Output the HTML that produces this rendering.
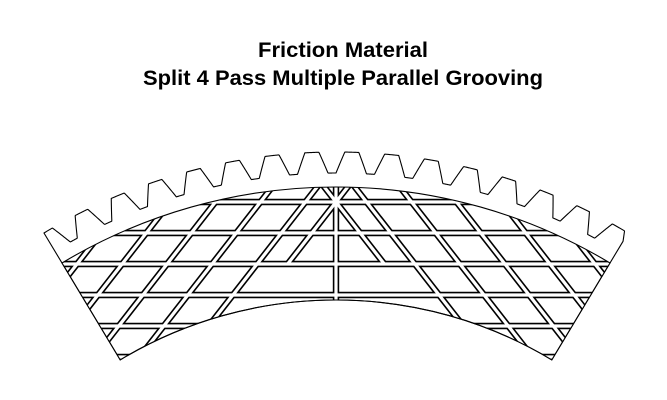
<!DOCTYPE html>
<html><head><meta charset="utf-8"><style>
html,body{margin:0;padding:0;background:#fff;}
svg{display:block}
</style></head><body>
<svg id="s" width="667" height="400" viewBox="0 0 667 400" xmlns="http://www.w3.org/2000/svg">
<text x="343" y="57" text-anchor="middle" font-family="'Liberation Sans Narrow','Liberation Sans',sans-serif" font-weight="bold" font-size="21" textLength="170" lengthAdjust="spacingAndGlyphs">Friction Material</text>
<text x="343" y="85" text-anchor="middle" font-family="'Liberation Sans Narrow','Liberation Sans',sans-serif" font-weight="bold" font-size="21" textLength="400" lengthAdjust="spacingAndGlyphs">Split 4 Pass Multiple Parallel Grooving</text>
<g id="g"></g>
</svg>
<script>
(function(){
var cx=336, cy=719, Rin=419, Rf=532, R0=546, R1=567, A=31, p=4.04, ph=1.6;
var NS="http://www.w3.org/2000/svg", g=document.getElementById('g');
function pt(r,a){var t=a*Math.PI/180;return [cx+r*Math.sin(t), cy-r*Math.cos(t)];}
function f(v){return v.toFixed(2);}
function rt(a){var u=((a-ph)%p+p)%p; if(u>p/2)u-=p; u=Math.abs(u);
 var th=0.71, rh=p/2-0.42; if(u<th)return R1; if(u>rh)return R0; return R1+(R0-R1)*(u-th)/(rh-th);}
function el(n,at){var e=document.createElementNS(NS,n);for(var k in at)e.setAttribute(k,at[k]);g.appendChild(e);return e;}
var d="", a;
for(a=-A;a<=A+0.001;a+=0.05){var q=pt(rt(a),a);d+=(d?"L":"M")+f(q[0])+" "+f(q[1]);}
var q2=pt(Rin,A);d+="L"+f(q2[0])+" "+f(q2[1]);
var q3=pt(Rin,-A);d+="A"+Rin+" "+Rin+" 0 0 0 "+f(q3[0])+" "+f(q3[1])+"Z";
el('path',{d:d,fill:'#fff',stroke:'#000','stroke-width':1.1,'stroke-linejoin':'round'});
var p1=pt(Rf,-A),p2=pt(Rf,A);
var fd="M"+f(p1[0])+" "+f(p1[1])+"A"+Rf+" "+Rf+" 0 0 1 "+f(p2[0])+" "+f(p2[1])+"L"+f(q2[0])+" "+f(q2[1])+"A"+Rin+" "+Rin+" 0 0 0 "+f(q3[0])+" "+f(q3[1])+"Z";
var defs=document.createElementNS(NS,'defs');var cp=document.createElementNS(NS,'clipPath');cp.setAttribute('id','c');
var cpp=document.createElementNS(NS,'path');cpp.setAttribute('d',fd);cp.appendChild(cpp);defs.appendChild(cp);g.appendChild(defs);
var gg=document.createElementNS(NS,'g');gg.setAttribute('clip-path','url(#c)');g.appendChild(gg);
var lines=[];
[202,233,264,295,326,357].forEach(function(y){lines.push([0,y,667,y]);});
lines.push([cx,150,cx,400]);
var k=0.78;
for(var c=463;c>100;c-=45){
 var yA=(c-cx)/k;
 lines.push([c-k*400,400,cx,yA]);
 lines.push([2*cx-(c-k*400),400,cx,yA]);
}
// center X, limited to y<=264
var cc=cx+k*202;
lines.push([cc-k*264,264,cc-k*150,150]);
lines.push([2*cx-(cc-k*264),264,2*cx-(cc-k*150),150]);
function L(w,col){lines.forEach(function(l){var e=document.createElementNS(NS,'line');
 e.setAttribute('x1',f(l[0]));e.setAttribute('y1',f(l[1]));e.setAttribute('x2',f(l[2]));e.setAttribute('y2',f(l[3]));
 e.setAttribute('stroke',col);e.setAttribute('stroke-width',w);gg.appendChild(e);});}
L(6.4,'#000');L(3.2,'#fff');
el('path',{d:fd,fill:'none',stroke:'#000','stroke-width':1.1});
})();
</script>
</body></html>
